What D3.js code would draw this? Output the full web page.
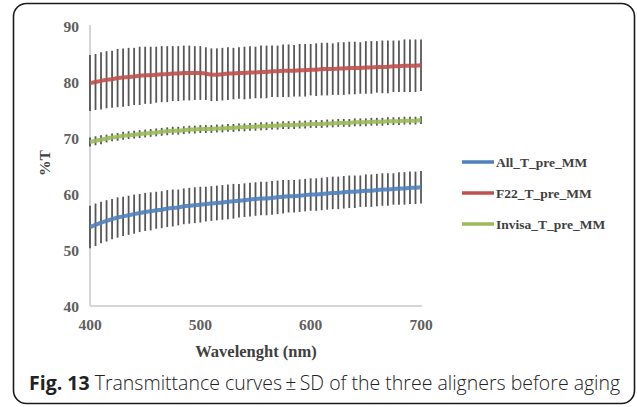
<!DOCTYPE html>
<html>
<head>
<meta charset="utf-8">
<script src="https://cdn.jsdelivr.net/npm/d3@7"></script>
<style>
  body { margin: 0; background: #fff; }
  svg { display: block; }
</style>
</head>
<body>
<svg id="viz" width="637" height="407"></svg>
<script>
// wavelengths sampled every 5 nm
var wavelengths = d3.range(400, 705, 5);

var allMean = [
  54.1, 54.5, 54.9, 55.2, 55.5, 55.8, 56.0, 56.2, 56.4, 56.6,
  56.8, 56.9, 57.1, 57.2, 57.4, 57.5, 57.6, 57.8, 57.9, 58.0,
  58.1, 58.2, 58.3, 58.4, 58.5, 58.6, 58.7, 58.8, 58.9, 59.0,
  59.1, 59.2, 59.2, 59.3, 59.4, 59.5, 59.6, 59.6, 59.7, 59.8,
  59.9, 59.9, 60.0, 60.1, 60.2, 60.2, 60.3, 60.4, 60.4, 60.5,
  60.6, 60.6, 60.7, 60.8, 60.8, 60.9, 61.0, 61.0, 61.1, 61.1,
  61.2
];
var allSd = [
  3.8, 3.8, 3.7, 3.7, 3.6, 3.6, 3.5, 3.5, 3.5, 3.4,
  3.4, 3.4, 3.3, 3.3, 3.3, 3.3, 3.2, 3.2, 3.2, 3.2,
  3.2, 3.1, 3.1, 3.1, 3.1, 3.1, 3.1, 3.0, 3.0, 3.0,
  3.0, 3.0, 3.0, 3.0, 3.0, 3.0, 2.9, 2.9, 2.9, 2.9,
  2.9, 2.9, 2.9, 2.9, 2.9, 2.9, 2.9, 2.9, 2.9, 2.8,
  2.9, 2.9, 2.9, 2.9, 2.9, 2.8, 2.9, 2.9, 2.9, 2.9,
  2.9
];

var f22Mean = [
  79.8, 80.0, 80.2, 80.4, 80.5, 80.7, 80.8, 80.9, 81.0, 81.1,
  81.2, 81.2, 81.3, 81.4, 81.4, 81.5, 81.5, 81.6, 81.6, 81.6,
  81.6, 81.5, 81.3, 81.3, 81.4, 81.5, 81.5, 81.6, 81.6, 81.7,
  81.7, 81.8, 81.8, 81.9, 81.9, 82.0, 82.0, 82.0, 82.1, 82.1,
  82.2, 82.2, 82.3, 82.3, 82.3, 82.4, 82.4, 82.5, 82.5, 82.5,
  82.6, 82.6, 82.7, 82.7, 82.7, 82.8, 82.8, 82.9, 82.9, 82.9,
  83.0
];
var f22Sd = [
  5.0, 5.0, 5.1, 5.1, 5.1, 5.2, 5.2, 5.2, 5.1, 5.2,
  5.1, 5.1, 5.0, 5.0, 5.0, 4.9, 4.9, 4.9, 4.9, 4.8,
  4.8, 4.7, 4.7, 4.7, 4.7, 4.7, 4.6, 4.6, 4.7, 4.7,
  4.6, 4.7, 4.7, 4.6, 4.6, 4.7, 4.7, 4.6, 4.7, 4.7,
  4.6, 4.7, 4.7, 4.7, 4.6, 4.7, 4.7, 4.7, 4.7, 4.6,
  4.7, 4.7, 4.6, 4.7, 4.7, 4.6, 4.6, 4.7, 4.7, 4.7,
  4.6
];

var invisaMean = [
  69.3, 69.5, 69.7, 69.9, 70.1, 70.2, 70.4, 70.5, 70.6, 70.7,
  70.8, 70.9, 71.0, 71.1, 71.2, 71.3, 71.3, 71.4, 71.5, 71.5,
  71.6, 71.6, 71.6, 71.7, 71.7, 71.8, 71.8, 71.9, 71.9, 72.0,
  72.0, 72.1, 72.1, 72.2, 72.2, 72.3, 72.3, 72.3, 72.4, 72.4,
  72.5, 72.5, 72.5, 72.6, 72.6, 72.7, 72.7, 72.7, 72.8, 72.8,
  72.8, 72.9, 72.9, 72.9, 73.0, 73.0, 73.0, 73.1, 73.1, 73.1,
  73.2
];
var invisaSd = [
  0.8, 0.8, 0.8, 0.7, 0.7, 0.7, 0.7, 0.7, 0.7, 0.7,
  0.7, 0.7, 0.7, 0.7, 0.7, 0.7, 0.7, 0.7, 0.7, 0.7,
  0.7, 0.7, 0.7, 0.7, 0.7, 0.7, 0.7, 0.7, 0.7, 0.7,
  0.7, 0.7, 0.7, 0.7, 0.7, 0.7, 0.7, 0.7, 0.7, 0.7,
  0.7, 0.7, 0.7, 0.7, 0.7, 0.7, 0.7, 0.7, 0.7, 0.7,
  0.7, 0.7, 0.7, 0.7, 0.7, 0.7, 0.7, 0.7, 0.7, 0.7,
  0.7
];

var seriesNames = ["All_T_pre_MM", "F22_T_pre_MM", "Invisa_T_pre_MM"];
var seriesColors = ["#4f81bd", "#c0504d", "#9bbb59"];
var xTicks = [400, 500, 600, 700];
var yTicks = [40, 50, 60, 70, 80, 90];

var series = [
  { name: seriesNames[0], color: seriesColors[0], mean: allMean, sd: allSd },
  { name: seriesNames[1], color: seriesColors[1], mean: f22Mean, sd: f22Sd },
  { name: seriesNames[2], color: seriesColors[2], mean: invisaMean, sd: invisaSd }
];

var svg = d3.select("#viz");
var serif = "'Liberation Serif', 'DejaVu Serif', serif";

// outer frame
svg.append("rect")
  .attr("x", 13.5).attr("y", 3.5)
  .attr("width", 621).attr("height", 400)
  .attr("rx", 13).attr("ry", 13)
  .attr("fill", "#fff")
  .attr("stroke", "#1a1a1a")
  .attr("stroke-width", 1.6);

var x = d3.scaleLinear().domain([400, 700]).range([90, 421]);
var y = d3.scaleLinear().domain([40, 90]).range([306, 26]);

// axis lines
svg.append("line")
  .attr("x1", x(400)).attr("x2", x(400))
  .attr("y1", y(90) - 1).attr("y2", y(40))
  .attr("stroke", "#c8c8c8").attr("stroke-width", 1.5);
svg.append("line")
  .attr("x1", x(400)).attr("x2", x(700) + 1)
  .attr("y1", y(40)).attr("y2", y(40))
  .attr("stroke", "#c8c8c8").attr("stroke-width", 1.5);

// tick labels
svg.append("g").selectAll("text")
  .data(yTicks)
  .enter()
  .append("text")
  .attr("x", 79)
  .attr("y", function (d) { return y(d) + 5.5; })
  .attr("text-anchor", "end")
  .style("font-family", serif)
  .style("font-weight", "bold")
  .style("font-size", "15.5px")
  .style("fill", "#606060")
  .text(function (d) { return d; });

svg.append("g").selectAll("text")
  .data(xTicks)
  .enter()
  .append("text")
  .attr("x", function (d) { return x(d); })
  .attr("y", 329.5)
  .attr("text-anchor", "middle")
  .style("font-family", serif)
  .style("font-weight", "bold")
  .style("font-size", "15.5px")
  .style("fill", "#606060")
  .text(function (d) { return d; });

// axis titles
svg.append("text")
  .attr("transform", "translate(50,163) rotate(-90)")
  .attr("text-anchor", "middle")
  .style("font-family", serif)
  .style("font-weight", "bold")
  .style("font-size", "15.5px")
  .style("fill", "#404040")
  .text("%T");

svg.append("text")
  .attr("x", 256).attr("y", 357)
  .attr("text-anchor", "middle")
  .style("font-family", serif)
  .style("font-weight", "bold")
  .style("font-size", "16.5px")
  .style("fill", "#404040")
  .text("Wavelenght (nm)");

var line = d3.line()
  .x(function (d) { return x(d.w); })
  .y(function (d) { return y(d.v); });

series.forEach(function (s) {
  var pts = wavelengths.map(function (w, i) {
    return { w: w, v: s.mean[i], sd: s.sd[i] };
  });

  // error bars
  svg.append("g").selectAll("line")
    .data(pts)
    .enter()
    .append("line")
    .attr("x1", function (d) { return x(d.w); })
    .attr("x2", function (d) { return x(d.w); })
    .attr("y1", function (d) { return y(d.v + d.sd); })
    .attr("y2", function (d) { return y(d.v - d.sd); })
    .attr("stroke", "#3a3a3a")
    .attr("stroke-opacity", 0.85)
    .attr("stroke-width", 1.8);

  svg.append("path")
    .datum(pts)
    .attr("d", line)
    .attr("fill", "none")
    .attr("stroke", s.color)
    .attr("stroke-width", 4)
    .attr("stroke-opacity", 0.9)
    .attr("stroke-linejoin", "round");
});

// legend
var legend = svg.append("g").selectAll("g")
  .data(series)
  .enter()
  .append("g")
  .attr("transform", function (d, i) { return "translate(462," + (162 + i * 31) + ")"; });

legend.append("line")
  .attr("x1", 0).attr("x2", 32)
  .attr("stroke", function (d) { return d.color; })
  .attr("stroke-width", 3.5);

legend.append("text")
  .attr("x", 34).attr("y", 5)
  .style("font-family", serif)
  .style("font-weight", "bold")
  .style("font-size", "13.5px")
  .style("fill", "#404040")
  .text(function (d) { return d.name; });

// caption
var caption = svg.append("text")
  .attr("x", 29).attr("y", 390)
  .style("font-family", "'Open Sans', 'Noto Sans', sans-serif")
  .style("font-size", "19.5px")
  .style("fill", "#222");
caption.append("tspan").style("font-weight", "bold").text("Fig. 13");
caption.append("tspan").style("font-weight", "300").text(" Transmittance curves\u2009\u00b1\u2009SD of the three aligners before aging");
</script>
</body>
</html>
